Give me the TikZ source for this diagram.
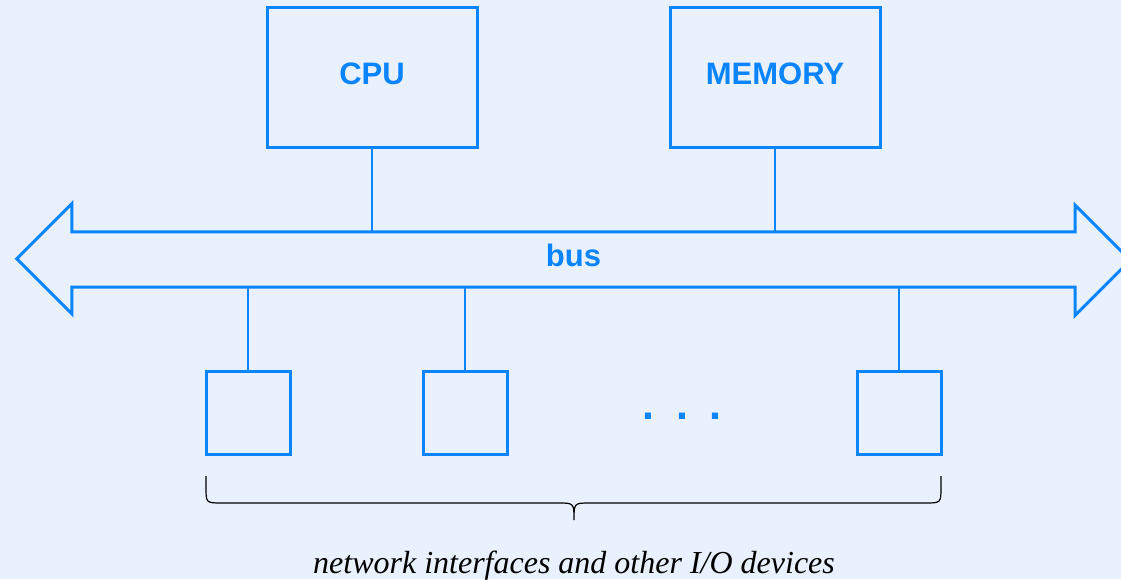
\documentclass[tikz,border=0pt]{standalone}
\usepackage{fontspec}
\setmainfont{Liberation Serif}
\setsansfont{Liberation Sans}
\usetikzlibrary{positioning}

\definecolor{busblue}{RGB}{10,132,255}
\definecolor{paper}{RGB}{232,241,253}

\begin{document}
\begin{tikzpicture}[x=1pt,y=1pt,
  lbl/.style={text=busblue,font=\sffamily\bfseries\fontsize{31}{36}\selectfont},
  box/.style={lbl,draw=busblue,line width=3pt,minimum width=210pt,minimum height=140pt,text depth=9pt},
  dev/.style={draw=busblue,line width=3pt,minimum width=84pt,minimum height=83pt},
  busline/.style={draw=busblue,line width=3pt},
  wire/.style={busblue,line width=2.8pt},
  brace/.style={black,line width=1.2pt}]
  \fill[paper] (0,0) rectangle (1121,579);
  \useasboundingbox (0,0) rectangle (1121,579);
  % top units
  \node[box] (cpu) at (372,501) {CPU};
  \node[box] (mem) at (775,501) {MEMORY};
  % the bus
  \node[lbl,inner sep=0pt,minimum width=1003pt,minimum height=55pt,text depth=8pt] (bus) at (573.5,319.5) {bus};
  \draw[busline] (bus.north west) -- ++(0,28) -- ++(-55,-55) -- ++(55,-55) -- (bus.south west)
    -- (bus.south east) -- ++(0,-28) -- ++(55,55) -- ++(-55,55) -- (bus.north east) -- cycle;
  \draw[wire] (cpu.south) -- (cpu.south |- bus.north);
  \draw[wire] (mem.south) -- (mem.south |- bus.north);
  % devices
  \node[dev] (dev1) at (248,166.5) {};
  \node[dev] (dev2) at (465,166.5) {};
  \node[dev] (dev3) at (899,166.5) {};
  \node[lbl,anchor=base,font=\sffamily\bfseries\fontsize{43}{48}\selectfont] (dots) at (682,160)
    {.\hspace{22pt}.\hspace{22pt}.};
  \draw[wire] (dev1.north) -- (dev1.north |- bus.south);
  \draw[wire] (dev2.north) -- (dev2.north |- bus.south);
  \draw[wire] (dev3.north) -- (dev3.north |- bus.south);
  % brace under the devices
  \coordinate (tip) at (574,59);
  \draw[brace] (206,103) -- (206,92) .. controls (206,76) .. (222,76) -- (558,76)
    .. controls (574,76) .. (tip) .. controls (574,76) .. (590,76) -- (925,76)
    .. controls (941,76) .. (941,92) -- (941,103);
  \node[anchor=base,font=\itshape\fontsize{32}{38}\selectfont] (io) at (574,5.5)
    {network interfaces and other I/O devices};
\end{tikzpicture}
\end{document}
